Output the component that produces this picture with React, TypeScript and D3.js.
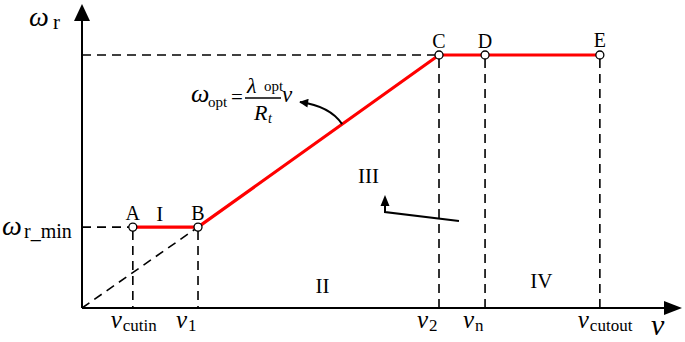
import React from "react";
import * as d3 from "d3";

// Schematic data (arbitrary units)
const pointNames = ["A", "B", "C", "D", "E"];
const pointV = [8.5, 19.4, 59.7, 67.4, 86.6];
const pointW = [26.7, 26.7, 83.5, 83.5, 83.5];

const xTickSubs = ["cutin", "1", "2", "n", "cutout"];
const xTickV = [8.5, 19.4, 59.7, 67.4, 86.6];

const regionLabels = ["I", "II", "III", "IV"];
const regionV = [13.0, 40.2, 47.9, 76.8];
const regionW = [28.7, 5.0, 41.3, 6.6];

const W = 685;
const H = 342;
const FONT = "Liberation Serif";

export default function App() {
  const x = d3.scaleLinear().domain([0, 100]).range([82, 680]);
  const y = d3.scaleLinear().domain([0, 100]).range([308, 5]);
  const x0 = x(0);
  const y0 = y(0);

  const redLine = d3
    .line<[number, number]>()
    .x((d) => x(d[0]))
    .y((d) => y(d[1]))(pointV.map((v, i) => [v, pointW[i]]));

  const dash = "9,6";
  const wMin = pointW[0];
  const wMax = pointW[2];

  const annV = 43.5;
  const annW = pointW[1] + ((annV - pointV[1]) * (pointW[2] - pointW[1])) / (pointV[2] - pointV[1]);
  const ax = x(annV);
  const ay = y(annW);

  const T = (props: any) => <text {...props} style={{ fontFamily: FONT }} />;

  return (
    <div style={{ position: "fixed", left: 0, top: 0 }}>
      <svg width={W} height={H} style={{ display: "block", background: "#fff", fontFamily: FONT }}>
        <defs>
          <marker id="ah" viewBox="0 0 10 10" refX="9" refY="5" markerWidth="11" markerHeight="9" markerUnits="userSpaceOnUse" orient="auto">
            <path d="M0,0 L10,5 L0,10 z" fill="#000" />
          </marker>
        </defs>

        <g stroke="#000" strokeWidth={1.6} strokeDasharray={dash} fill="none">
          <line x1={x0} y1={y(wMax)} x2={x(pointV[2])} y2={y(wMax)} />
          <line x1={x0} y1={y(wMin)} x2={x(pointV[0])} y2={y(wMin)} />
          <line x1={x0} y1={y0} x2={x(pointV[1])} y2={y(pointW[1])} />
          {pointV.map((v, i) => (
            <line key={i} x1={x(v)} y1={y(pointW[i]) + 4} x2={x(v)} y2={y0} />
          ))}
        </g>

        <g stroke="#000" strokeWidth={2}>
          <line x1={x0} y1={y0} x2={x0} y2={18} />
          <line x1={x0} y1={y0} x2={667} y2={y0} />
        </g>
        <path d={`M${x0},4 L${x0 - 8},21 L${x0 + 8},21 Z`} fill="#000" />
        <path d={`M682,${y0} L664,${y0 - 7} L664,${y0 + 7} Z`} fill="#000" />

        <path d={redLine || ""} stroke="#ff0000" strokeWidth={3.2} fill="none" />

        {pointV.map((v, i) => (
          <g key={pointNames[i]}>
            <circle cx={x(v)} cy={y(pointW[i])} r={4} fill="#fff" stroke="#000" strokeWidth={1.3} />
            <T x={x(v)} y={y(pointW[i]) - 7 - (i === 4 ? 1 : 0)} textAnchor="middle" fontSize={20}>
              {pointNames[i]}
            </T>
          </g>
        ))}

        {regionLabels.map((r, i) => (
          <T key={r} x={x(regionV[i])} y={y(regionW[i])} textAnchor="middle" fontSize={21}>
            {r}
          </T>
        ))}

        <polyline points={`459,221 385,212 385,204`} fill="none" stroke="#000" strokeWidth={2} />
        <path d="M385,195 L380.5,206 L389.5,206 Z" fill="#000" />

        <path d={`M${ax},${ay} Q${ax - 12},${ay - 18} ${300},${102}`} fill="none" stroke="#000" strokeWidth={2} markerEnd="url(#ah)" />

        <T x={191} y={102} fontSize={26} fontStyle="italic">ω</T>
        <T x={208} y={107} fontSize={15}>opt</T>
        <T x={231} y={104} fontSize={21}>=</T>
        <line x1={245} y1={98} x2={281} y2={98} stroke="#000" strokeWidth={1.3} />
        <T x={247} y={93} fontSize={22} fontStyle="italic">λ</T>
        <T x={264} y={91} fontSize={15}>opt</T>
        <T x={254} y={120} fontSize={22} fontStyle="italic">R</T>
        <T x={268} y={123} fontSize={14} fontStyle="italic">t</T>
        <T x={282} y={102} fontSize={23} fontStyle="italic">v</T>

        <T x={29} y={26} fontSize={28} fontStyle="italic">ω</T>
        <T x={53} y={29} fontSize={21}>r</T>
        <T x={2} y={235} fontSize={28} fontStyle="italic">ω</T>
        <T x={24} y={238} fontSize={20}>r_min</T>

        {xTickV.map((v, i) => (
          <g key={xTickSubs[i]}>
            <T x={x(v) - 22} y={328} fontSize={25} fontStyle="italic">v</T>
            <T x={x(v) - 10} y={331} fontSize={17}>{xTickSubs[i]}</T>
          </g>
        ))}
        <T x={651} y={335} fontSize={30} fontStyle="italic">v</T>
      </svg>
    </div>
  );
}
